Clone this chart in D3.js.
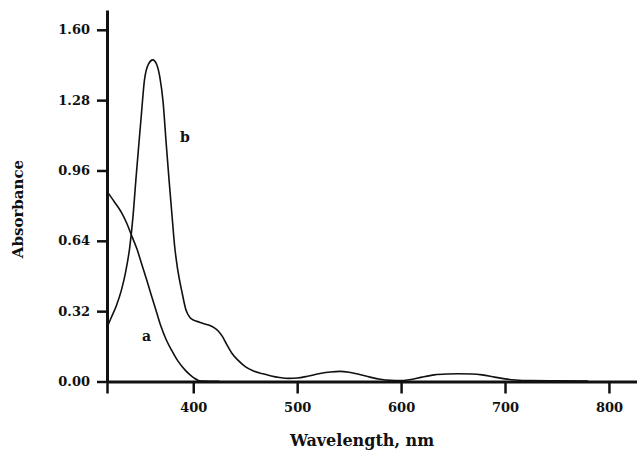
<!DOCTYPE html>
<html lang="en">

<head>
    <meta charset="UTF-8">
    <script src="https://d3js.org/d3.v7.min.js"></script>
    <style>
        body { margin: 0; background: #fff; }
        text { font-family: "DejaVu Serif", "Liberation Serif", serif; font-weight: bold; fill: #111; }
    </style>
</head>

<body>
    <div class="chart"></div>
    <script>
        // curve a
        let wavelengthA = [317, 324, 331, 336, 341, 346, 350, 355, 360, 365, 369, 374, 379, 385, 392, 397, 401, 405, 410, 425]
        let absorbanceA = [0.865, 0.818, 0.768, 0.72, 0.66, 0.60, 0.54, 0.465, 0.387, 0.31, 0.25, 0.19, 0.144, 0.095, 0.053, 0.03, 0.015, 0.005, 0.002, 0.001]

        // curve b
        let wavelengthB = [317, 321, 326, 331, 335, 339, 342, 345, 348, 350, 353, 357, 361, 365, 368, 371, 374, 377, 380, 382,
            385, 389, 393, 397, 401, 406, 411, 416, 420, 424, 428, 432, 437, 443, 450, 458, 467, 475, 483, 492,
            500, 510, 522, 532, 541, 550, 560, 570, 580, 590, 598, 608, 620, 632, 645, 655, 668, 678, 690, 700,
            710, 725, 750, 780]
        let absorbanceB = [0.245, 0.29, 0.345, 0.418, 0.50, 0.615, 0.75, 0.93, 1.10, 1.21, 1.37, 1.445, 1.463, 1.44, 1.38, 1.27, 1.08, 0.90, 0.73, 0.62,
            0.51, 0.41, 0.325, 0.29, 0.278, 0.27, 0.262, 0.255, 0.245, 0.23, 0.205, 0.17, 0.13, 0.097, 0.068, 0.048, 0.035, 0.025, 0.018, 0.014,
            0.016, 0.024, 0.036, 0.043, 0.046, 0.042, 0.032, 0.02, 0.01, 0.005, 0.004, 0.008, 0.02, 0.03, 0.034, 0.035, 0.034, 0.03, 0.02, 0.012,
            0.007, 0.004, 0.003, 0.002]

        let xTicks = [317, 400, 500, 600, 700, 800]
        let yTicks = [0, 0.32, 0.64, 0.96, 1.28, 1.60]

        let width = 637
        let height = 452

        var svg = d3.select(".chart").append("svg")
            .attr("width", width)
            .attr("height", height)

        var xScale = d3.scaleLinear().domain([317, 827]).range([107, 637])
        var yScale = d3.scaleLinear().domain([0, 1.69]).range([381.5, 10])

        // axes
        svg.append("g")
            .attr("transform", "translate(0," + yScale(0) + ")")
            .call(d3.axisBottom(xScale)
                .tickValues(xTicks)
                .tickSize(12)
                .tickSizeOuter(0)
                .tickPadding(9)
                .tickFormat(d => d == 317 ? "" : d))

        svg.append("g")
            .attr("transform", "translate(" + xScale(317) + ",0)")
            .call(d3.axisLeft(yScale)
                .tickValues(yTicks)
                .tickSize(10)
                .tickSizeOuter(0)
                .tickPadding(7)
                .tickFormat(d3.format(".2f")))

        svg.selectAll(".domain").attr("stroke", "#111").attr("stroke-width", 3)
        svg.selectAll(".tick line").attr("stroke", "#111").attr("stroke-width", 2.5)
        svg.selectAll(".tick text").style("font-size", "13px").attr("fill", "#111")

        // lines
        var line = d3.line()
            .x(d => xScale(d[0]))
            .y(d => yScale(d[1]))
            .curve(d3.curveMonotoneX)

        svg.append("path")
            .datum(d3.zip(wavelengthA, absorbanceA))
            .attr("d", line)
            .attr("fill", "none")
            .attr("stroke", "#111")
            .attr("stroke-width", 1.6)

        svg.append("path")
            .datum(d3.zip(wavelengthB, absorbanceB))
            .attr("d", line)
            .attr("fill", "none")
            .attr("stroke", "#111")
            .attr("stroke-width", 1.6)

        // curve labels
        svg.append("text").attr("x", xScale(355)).attr("y", yScale(0.205)).attr("dy", "0.35em")
            .attr("text-anchor", "middle").style("font-size", "14px").text("a")
        svg.append("text").attr("x", xScale(392)).attr("y", yScale(1.11)).attr("dy", "0.35em")
            .attr("text-anchor", "middle").style("font-size", "14px").text("b")

        // axis titles
        svg.append("text")
            .attr("transform", "translate(23,209) rotate(-90)")
            .attr("text-anchor", "middle")
            .style("font-size", "15px")
            .text("Absorbance")

        svg.append("text")
            .attr("x", 362).attr("y", 446)
            .attr("text-anchor", "middle")
            .style("font-size", "16px")
            .text("Wavelength, nm")
    </script>
</body>

</html>
